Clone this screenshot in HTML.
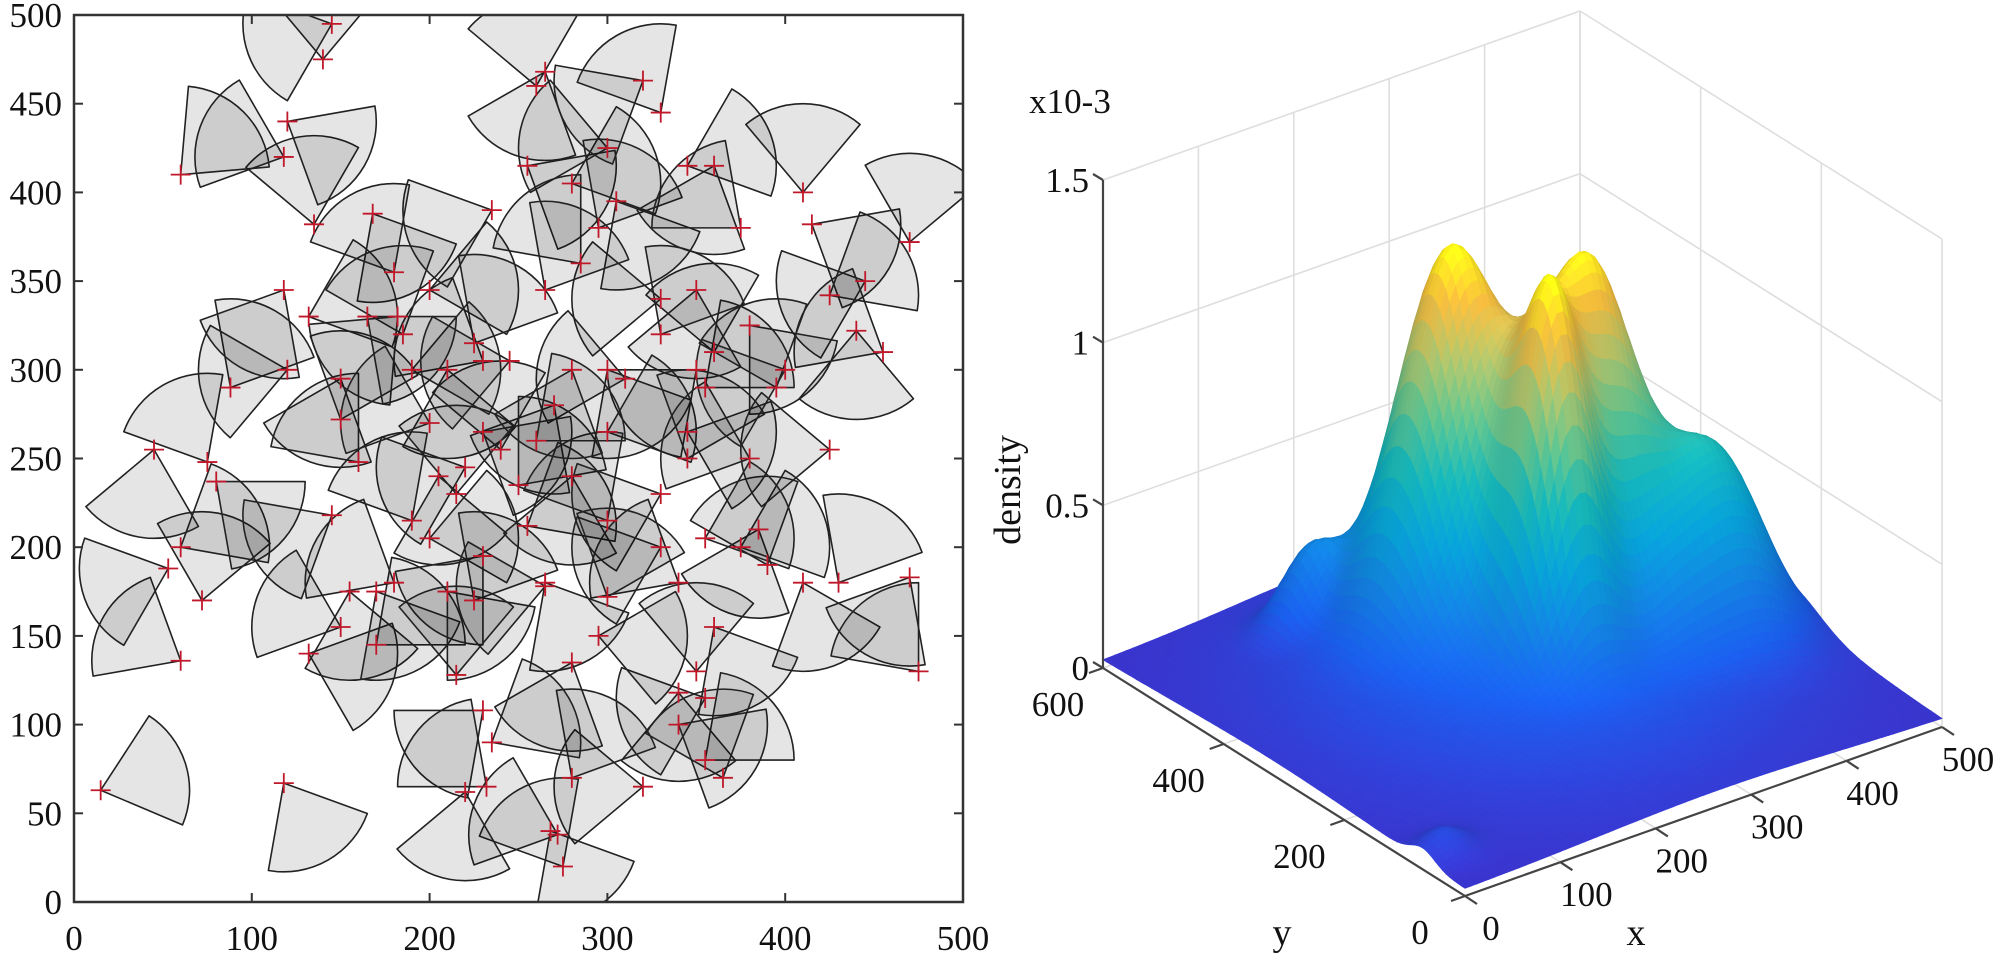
<!DOCTYPE html>
<html><head><meta charset="utf-8"><title>Sensor coverage and density</title>
<style>
html,body{margin:0;padding:0;background:#fff;}
svg{display:block;}
text{font-family:"Liberation Serif",serif;fill:#111;}
</style></head>
<body>
<svg id="fig" width="2000" height="956" viewBox="0 0 2000 956">
  <defs><clipPath id="lclip"><rect x="74" y="15" width="889" height="887"/></clipPath></defs>
  <g id="left"></g>
  <g id="right"></g>
</svg>
<script>
// ---------- Left chart data ----------
const sensorX = [15,118,60,132,72,53,60,45,75,80, 88,120,118,135,60,120,118,140,145,168, 132,150,160,150,145,155,150,170,170,185, 182,200,210,225,230,235,255,260,265,280, 300,305,295,320,330,345,360,375,410,415, 470,445,425,440,455,380,360,350,355,330, 350,285,265,300,300,310,270,240,230,250, 220,205,190,200,230,215,180,210,225,265, 255,280,300,330,345,345,380,385,375,390, 410,425,430,470,475,355,360,340,350,340, 355,355,365,340,320,280,280,275,268,272, 235,230,215,220,232,295,330,300,180,190, 165,200,260,280,395,400,265,330,245];
const sensorY = [63,67,136,140,170,188,200,255,248,237, 290,300,345,382,410,440,420,475,495,388, 330,295,248,272,218,175,155,145,175,320, 330,345,300,315,305,390,415,460,468,405, 425,395,380,463,445,415,415,380,400,382, 372,350,342,322,310,325,310,300,290,340, 345,360,345,300,265,295,280,255,265,235, 245,240,215,205,195,230,180,175,170,178, 212,240,215,230,265,250,250,210,200,190, 180,255,180,183,130,205,155,180,130,118, 115,80,70,100,65,135,70,20,40,38, 90,108,128,62,65,150,200,172,355,300, 330,270,260,300,290,300,180,320,305];
const sensorDir = [17,-60,150,-20,80,200,30,260,120,-40, 60,190,240,100,45,-30,160,90,200,300, 20,250,130,70,210,-80,160,40,300,110, 225,10,280,60,150,200,330,100,250,20, 170,300,60,210,120,20,250,140,90,330, 80,200,30,270,150,310,100,220,40,180, 260,130,60,300,20,170,240,100,330,50, 200,280,120,10,230,90,150,310,60,190, 30,260,120,200,340,70,160,250,20,110, 290,180,60,240,130,20,300,150,90,270, 200,40,110,330,180,250,60,120,300,160, 30,220,90,260,140,350,200,70,120,10, 320,160,40,250,110,200,300,60,190];
const xTicks = [0,100,200,300,400,500];
const yTicks = [0,50,100,150,200,250,300,350,400,450,500];
const sensingRadius = 50;
const aperture = 80;

// ---------- Right chart data ----------
const peakX = [240,262,334,425,353,155,22,270];
const peakY = [405,270,321,255,223,506,70,320];
const peakAmp = [1.06e-3,0.88e-3,0.97e-3,0.5e-3,0.15e-3,0.2e-3,0.07e-3,0.22e-3];
const peakSx = [45,28,40,40,35,25,20,130];
const peakSy = [55,40,45,50,35,25,20,160];
const surfXTicks = [0,100,200,300,400,500];
const surfYTicks = [0,200,400,600];
const surfZTicks = [0,0.5e-3,1e-3,1.5e-3];
const surfZLabels = ["0","0.5","1","1.5"];

const NS = "http://www.w3.org/2000/svg";
function mk(tag, attrs, parent){const e=document.createElementNS(NS,tag);for(const k in attrs)e.setAttribute(k,attrs[k]);parent.appendChild(e);return e;}

// ---------- Left plot ----------
(function(){
  const g = document.getElementById('left');
  const X0=74,X1=963,Y0=902,Y1=15;
  const sx = v => X0 + v/500*(X1-X0);
  const sy = v => Y0 - v/500*(Y0-Y1);
  const cg = mk('g',{'clip-path':'url(#lclip)'},g);
  
  
  const rx = sensingRadius/500*(X1-X0), ry = sensingRadius/500*(Y0-Y1);
  for(let i=0;i<sensorX.length;i++){
    const x=sensorX[i], y=sensorY[i], d=sensorDir[i];
    const a1=(d-aperture/2)*Math.PI/180, a2=(d+aperture/2)*Math.PI/180;
    const p1=[sx(x+sensingRadius*Math.cos(a1)), sy(y+sensingRadius*Math.sin(a1))];
    const p2=[sx(x+sensingRadius*Math.cos(a2)), sy(y+sensingRadius*Math.sin(a2))];
    const path = mk('path',{d:`M${sx(x)},${sy(y)} L${p1[0]},${p1[1]} A${rx},${ry} 0 0 0 ${p2[0]},${p2[1]} Z`,
      fill:'#000','fill-opacity':'0.1',stroke:'#222','stroke-width':'1.6','stroke-linejoin':'round'},cg);
    
    
  }
  for(let i=0;i<sensorX.length;i++){
    const X=sx(sensorX[i]), Y=sy(sensorY[i]);
    const m = mk('path',{d:`M${X-10},${Y} H${X+10} M${X},${Y-10} V${Y+10}`,stroke:'#c0182a','stroke-width':'1.8'},cg);
    
    
  }
  const box = mk('rect',{x:X0,y:Y1,width:X1-X0,height:Y0-Y1,fill:'none',stroke:'#333','stroke-width':'2.5'},g);
  
  
  xTicks.forEach(t=>{
    const X=sx(t);
    mk('line',{x1:X,y1:Y0,x2:X,y2:Y0-9,stroke:'#333','stroke-width':'2'},g);
    mk('line',{x1:X,y1:Y1,x2:X,y2:Y1+9,stroke:'#333','stroke-width':'2'},g);
    const tx = mk('text',{x:X,y:950,'font-size':'35','text-anchor':'middle'},g);
    tx.textContent=t;
    
    
  });
  yTicks.forEach(t=>{
    const Y=sy(t);
    mk('line',{x1:X0,y1:Y,x2:X0+9,y2:Y,stroke:'#333','stroke-width':'2'},g);
    mk('line',{x1:X1,y1:Y,x2:X1-9,y2:Y,stroke:'#333','stroke-width':'2'},g);
    const tx = mk('text',{x:62,y:Y+12,'font-size':'35','text-anchor':'end'},g);
    tx.textContent=t;
    
    
  });
})();

// ---------- Right plot ----------
(function(){
  const g = document.getElementById('right');
  const O=[1465,896], EX=[477,-169], EY=[-362,-228], EZ=[0,-488];
  const P=(x,y,z)=>{const u=x/500,v=y/600,w=z/1.5e-3;return [O[0]+u*EX[0]+v*EY[0]+w*EZ[0], O[1]+u*EX[1]+v*EY[1]+w*EZ[1]];};
  const line=(a,b,attrs)=>mk('line',Object.assign({x1:a[0],y1:a[1],x2:b[0],y2:b[1]},attrs),g);
  const grid={stroke:'#dedede','stroke-width':'1.6'};
  surfXTicks.forEach(t=>{ line(P(t,600,0),P(t,600,1.5e-3),grid); line(P(t,0,0),P(t,600,0),grid); });
  surfYTicks.forEach(t=>{ line(P(500,t,0),P(500,t,1.5e-3),grid); line(P(0,t,0),P(500,t,0),grid); });
  surfZTicks.forEach(t=>{ line(P(0,600,t),P(500,600,t),grid); line(P(500,600,t),P(500,0,t),grid); });
  function f(x,y){let s=0;for(let k=0;k<peakX.length;k++){const dx=x-peakX[k],dy=y-peakY[k];s+=peakAmp[k]*Math.exp(-dx*dx/(2*peakSx[k]*peakSx[k])-dy*dy/(2*peakSy[k]*peakSy[k]));}return s;}
  const NX=80,NY=96;
  const Z=[];let zmax=0;
  for(let i=0;i<=NX;i++){Z.push([]);for(let j=0;j<=NY;j++){const z=f(i/NX*500,j/NY*600)+0.02e-3;Z[i].push(z);if(z>zmax)zmax=z;}}
  const par=[[0,62,44,195],[0.125,25,90,225],[0.25,18,125,216],[0.375,7,156,207],[0.5,21,177,180],[0.625,89,189,140],[0.75,165,190,107],[0.875,235,180,60],[1,249,251,14]];
  function cmap(t){t=Math.max(0,Math.min(1,t));for(let k=1;k<par.length;k++){if(t<=par[k][0]){const a=par[k-1],b=par[k],r=(t-a[0])/(b[0]-a[0]);return [a[1]+r*(b[1]-a[1]),a[2]+r*(b[2]-a[2]),a[3]+r*(b[3]-a[3])];}}return [249,251,14];}
  const quads=[];
  for(let i=0;i<NX;i++)for(let j=0;j<NY;j++)quads.push([i,j]);
  const depth=q=>169*(q[0]+0.5)/NX+228*(q[1]+0.5)/NY;
  quads.sort((a,b)=>depth(b)-depth(a));
  const sg = mk('g',{},g);
  
  
  const dxs=500/NX, dys=600/NY;
  const L=[-0.45,-0.6,0.75];const Ll=Math.hypot(L[0],L[1],L[2]);
  for(const [i,j] of quads){
    const x0=i*dxs,x1=(i+1)*dxs,y0=j*dys,y1=(j+1)*dys;
    const z00=Z[i][j],z10=Z[i+1][j],z01=Z[i][j+1],z11=Z[i+1][j+1];
    const zc=(z00+z10+z01+z11)/4;
    const gu=((z10+z11)-(z00+z01))/2/1.5e-3/(1/NX);
    const gv=((z01+z11)-(z00+z10))/2/1.5e-3/(1/NY);
    const n=[-gu,-gv,1];const nl=Math.hypot(n[0],n[1],n[2]);
    const dot=(n[0]*L[0]+n[1]*L[1]+n[2]*L[2])/(nl*Ll);
    const sh=0.85+0.25*Math.max(0,dot);
    const c=cmap(zc/zmax).map(v=>Math.round(Math.min(255,v*sh)));
    const a=P(x0,y0,z00),b=P(x1,y0,z10),cc=P(x1,y1,z11),d=P(x0,y1,z01);
    const col=`rgb(${c[0]},${c[1]},${c[2]})`;
    mk('path',{d:`M${a[0].toFixed(1)},${a[1].toFixed(1)}L${b[0].toFixed(1)},${b[1].toFixed(1)}L${cc[0].toFixed(1)},${cc[1].toFixed(1)}L${d[0].toFixed(1)},${d[1].toFixed(1)}Z`,fill:col,stroke:col,'stroke-width':'0.7'},sg);
  }
  const ax={stroke:'#444','stroke-width':'2.2'};
  const zl=line(P(0,600,0),P(0,600,1.5e-3),ax);  
  const yl=line(P(0,600,0),P(0,0,0),ax);  
  const xl=line(P(0,0,0),P(500,0,0),ax);  
  surfZTicks.forEach((t,k)=>{
    const p=P(0,600,t);
    line(p,[p[0]-10,p[1]-6],ax);
    const tx=mk('text',{x:p[0]-14,y:p[1]+12,'font-size':'35','text-anchor':'end'},g);
    tx.textContent=surfZLabels[k];
    
    
  });
  surfYTicks.forEach(t=>{
    const p=P(0,t,0);
    line(p,[p[0]-14,p[1]+5],ax);
    const tx=mk('text',{x:p[0]-45,y:p[1]+48,'font-size':'35','text-anchor':'middle'},g);
    tx.textContent=t;
    
    
  });
  surfXTicks.forEach(t=>{
    const p=P(t,0,0);
    line(p,[p[0]+12,p[1]+8],ax);
    const tx=mk('text',{x:p[0]+26,y:p[1]+44,'font-size':'35','text-anchor':'middle'},g);
    tx.textContent=t;
    
    
  });
  const ex=mk('text',{x:1070,y:113,'font-size':'35','text-anchor':'middle'},g); ex.textContent='x10-3';
   
  const zt=mk('text',{x:0,y:0,'font-size':'38','text-anchor':'middle',transform:'translate(1020,490) rotate(-90)'},g); zt.textContent='density';
   
  const yt=mk('text',{x:1282,y:945,'font-size':'38','text-anchor':'middle'},g); yt.textContent='y';
   
  const xt=mk('text',{x:1636,y:945,'font-size':'38','text-anchor':'middle'},g); xt.textContent='x';
   
})();
</script>
</body></html>
